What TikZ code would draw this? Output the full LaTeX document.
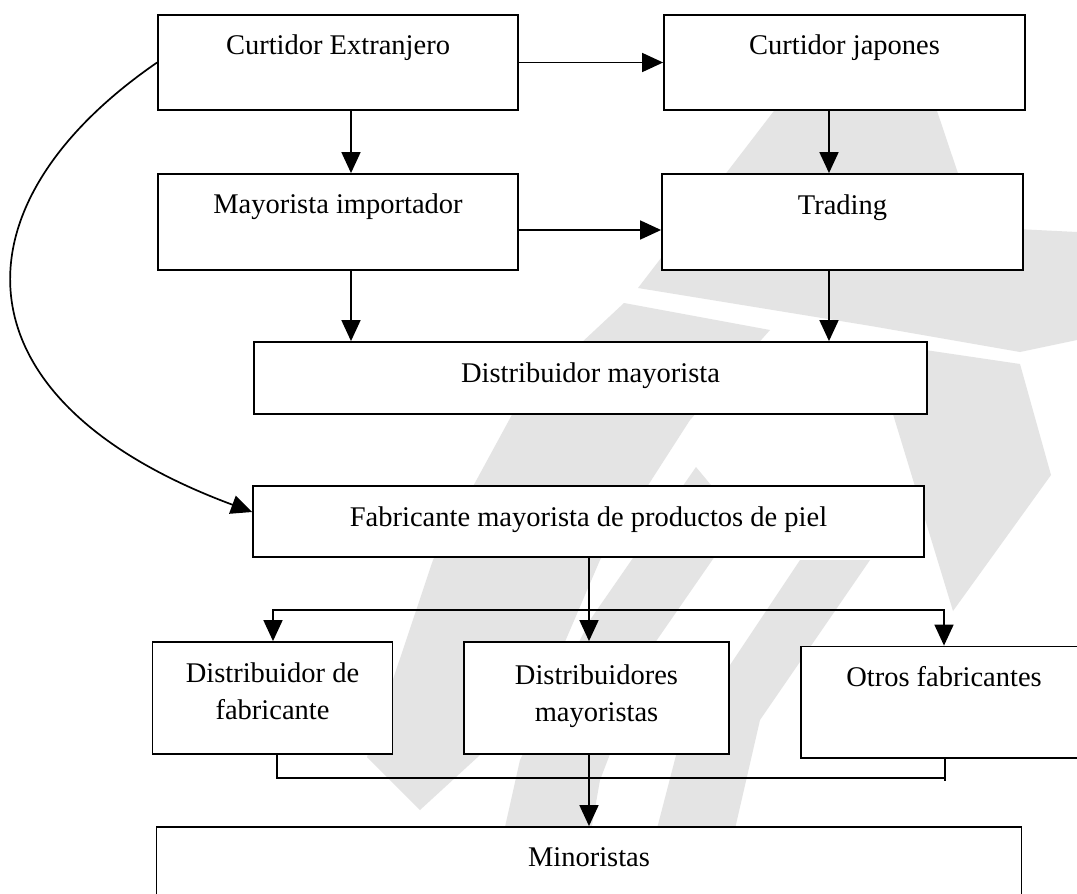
\documentclass[tikz,border=0pt]{standalone}
\usepackage{fontspec}
\setmainfont{Liberation Serif}
\usetikzlibrary{arrows.meta,calc}
\definecolor{wm}{RGB}{228,228,228}
\tikzset{
  box/.style={draw=black, line width=1.8pt, fill=white, inner sep=0pt},
  lbl/.style={anchor=base, inner sep=0pt, align=center, font=\fontsize{28.5}{37}\selectfont},
  conn/.style={draw=black, line width=1.7pt},
  arr/.style={conn, -{Triangle[length=21pt,width=19pt]}},
  wmark/.style={fill=wm, draw=none}
}
\begin{document}
\begin{tikzpicture}[x=1pt,y=-1pt]
\clip (0,0) rectangle (1077,894);
\fill[white] (0,0) rectangle (1077,894);
% watermark
\path[wmark] (790,90) -- (930,90) -- (976,227) -- (1077,232) -- (1077,340) -- (1020,352) -- (871,326) -- (638,288) -- cycle;
\path[wmark] (871,342) -- (1020,364) -- (1051,475) -- (953,611) -- (896,424) -- cycle;
\path[wmark] (624,303) -- (770,330) -- (690,420) -- (600,560) -- (540,700) -- (420,810) -- (367,757) -- (433,560) -- (520,400) -- cycle;
\path[wmark] (696,467) -- (740,520) -- (650,650) -- (600,780) -- (580,894) -- (490,894) -- (520,760) -- (590,620) -- cycle;
\path[wmark] (800,560) -- (870,560) -- (760,720) -- (720,894) -- (640,894) -- (680,740) -- cycle;
% boxes
\node[box, minimum width=360pt, minimum height=95pt] (ce) at (338,62.5) {};
\node[box, minimum width=361pt, minimum height=95pt] (cj) at (844.5,62.5) {};
\node[box, minimum width=360pt, minimum height=96pt] (mi) at (338,222) {};
\node[box, minimum width=361pt, minimum height=96pt] (tr) at (842.5,222) {};
\node[box, minimum width=673pt, minimum height=72pt] (dm) at (590.5,378) {};
\node[box, minimum width=671pt, minimum height=71pt] (fab) at (588.5,521.5) {};
\node[box, minimum width=240pt, minimum height=112pt] (df) at (272.5,698) {};
\node[box, minimum width=265pt, minimum height=112pt] (dms) at (596.5,698) {};
\node[box, minimum width=286pt, minimum height=111.5pt] (of) at (944,702.25) {};
\node[box, minimum width=865pt, minimum height=100pt] (min) at (589,877) {};
% labels (base = baseline of last line)
\node[lbl] (ce-t) at ($(ce.north)+(0,40)$) {Curtidor Extranjero};
\node[lbl] (cj-t) at ($(cj.north)+(0,40)$) {Curtidor japones};
\node[lbl] (mi-t) at ($(mi.north)+(0,40)$) {Mayorista importador};
\node[lbl] (tr-t) at ($(tr.north)+(0,41)$) {Trading};
\node[lbl] (dm-t) at ($(dm.north)+(0,41)$) {Distribuidor mayorista};
\node[lbl] (fab-t) at ($(fab.north)+(0,41)$) {Fabricante mayorista de productos de piel};
\node[lbl] (df-t) at ($(df.north)+(0,78)$) {Distribuidor de\\fabricante};
\node[lbl] (dms-t) at ($(dms.north)+(0,80)$) {Distribuidores\\mayoristas};
\node[lbl] (of-t) at ($(of.north)+(0,40.5)$) {Otros fabricantes};
\node[lbl] (min-t) at ($(min.north)+(0,40)$) {Minoristas};
% helper coordinates
\coordinate (xL) at (351,0);
\coordinate (xR) at (829,0);
\coordinate (yMT) at (0,230);
\coordinate (xM) at (589,0);
\coordinate (xDF) at (273,0);
\coordinate (xOF) at (944,0);
\coordinate (yBus) at (0,610);
\coordinate (xB) at (277,0);
\coordinate (yLow) at (0,778);
\coordinate (ofTick) at (945,781);
% connectors
\draw[arr] (ce.east) -- (cj.west);
\draw[arr] (ce.south -| xL) -- (mi.north -| xL);
\draw[arr] (cj.south -| xR) -- (tr.north -| xR);
\draw[arr] (mi.east |- yMT) -- (tr.west |- yMT);
\draw[arr] (mi.south -| xL) -- (dm.north -| xL);
\draw[arr] (tr.south -| xR) -- (dm.north -| xR);
\draw[arr] (ce.west) .. controls (-50,205) and (-50,400) .. ($(fab.west)+(0,-9.5)$);
\draw[arr] (fab.south -| xM) -- (dms.north -| xM);
\draw[conn, {Triangle[length=21pt,width=19pt]}-{Triangle[length=21pt,width=19pt]}] (df.north -| xDF) -- (xDF |- yBus) -- (xOF |- yBus) -- (of.north -| xOF);
\draw[conn] (df.south -| xB) -- (xB |- yLow) -- (ofTick |- yLow);
\draw[conn] ($(of.south -| ofTick)+(0,-1.5)$) -- (ofTick);
\draw[arr] (dms.south -| xM) -- (min.north -| xM);
\end{tikzpicture}
\end{document}
